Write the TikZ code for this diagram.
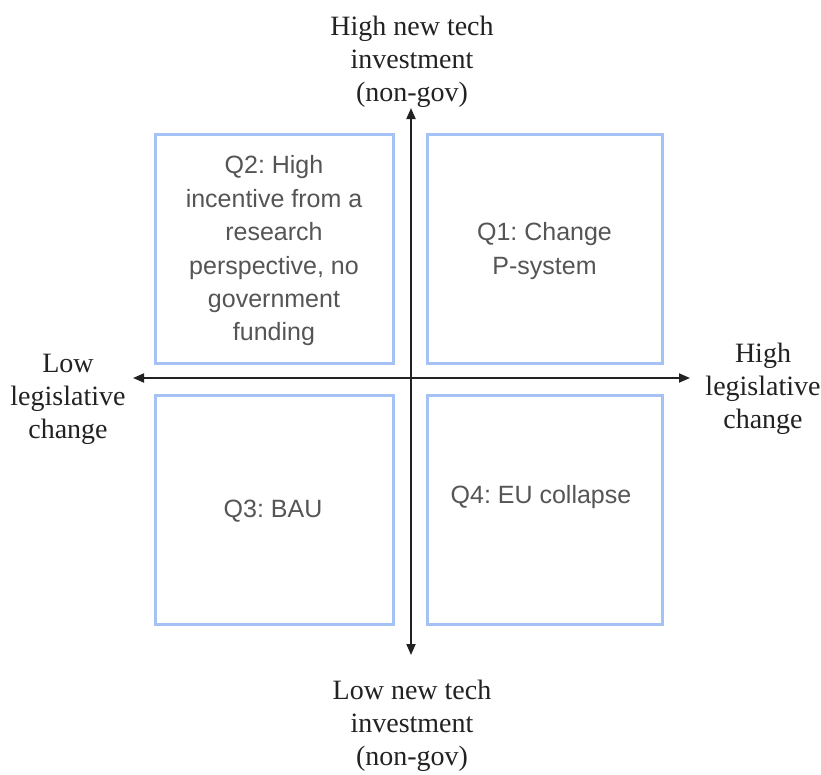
\documentclass[tikz,border=0pt]{standalone}
\usepackage{fontspec}
\setmainfont{Liberation Serif}
\newfontfamily\boxfont{Liberation Sans}
\usetikzlibrary{arrows.meta}
\frenchspacing
\definecolor{qblue}{HTML}{A4C2F4}
\definecolor{qtext}{HTML}{555555}
\definecolor{axiscol}{HTML}{222222}
\tikzset{
  qbox/.style={draw=qblue, line width=3pt, minimum width=#1, inner sep=0pt},
  qlabel/.style={font=\boxfont\frenchspacing\fontsize{25}{33.4}\selectfont, text=qtext, align=center, inner sep=0pt},
  axlabel/.style={font=\fontsize{28}{33}\selectfont, text=axiscol, align=center, inner sep=0pt},
  axisline/.style={draw=axiscol, line width=1.8pt, {Triangle[length=11pt,width=9pt]}-{Triangle[length=11pt,width=9pt]}}
}
\begin{document}
\begin{tikzpicture}[x=1pt,y=-1pt]
\useasboundingbox[fill=white] (0,0) rectangle (821,774);
% quadrant boxes
\node[qbox=238pt, minimum height=229pt] (q2) at (274,248.5) {};
\node[qbox=235pt, minimum height=229pt] (q1) at (544.5,248.5) {};
\node[qbox=238pt, minimum height=229pt] (q3) at (274,509.5) {};
\node[qbox=235pt, minimum height=229pt] (q4) at (544.5,509.5) {};
% box texts
\node[qlabel] (t2) at (274,251) {Q2: High\\incentive from a\\research\\perspective, no\\government\\funding};
\node[qlabel] (t1) at (544.5,251) {Q1: Change\\P-system};
\node[qlabel] (t3) at (273,511) {Q3: BAU};
\node[qlabel] (t4) at (541,497) {Q4: EU collapse};
% axes
\coordinate (axL) at (133,378);
\coordinate (axR) at (690,378);
\coordinate (axT) at (411,108);
\coordinate (axB) at (411,655);
\draw[axisline] (axL) -- (axR);
\draw[axisline] (axB) -- (axT);
% axis labels
\node[axlabel] (lt) at (412,62) {High new tech\\investment\\(non-gov)};
\node[axlabel] (lb) at (412,726) {Low new tech\\investment\\(non-gov)};
\node[axlabel] (ll) at (68,399) {Low\\legislative\\change};
\node[axlabel] (lr) at (763,389) {High\\legislative\\change};
\end{tikzpicture}
\end{document}
